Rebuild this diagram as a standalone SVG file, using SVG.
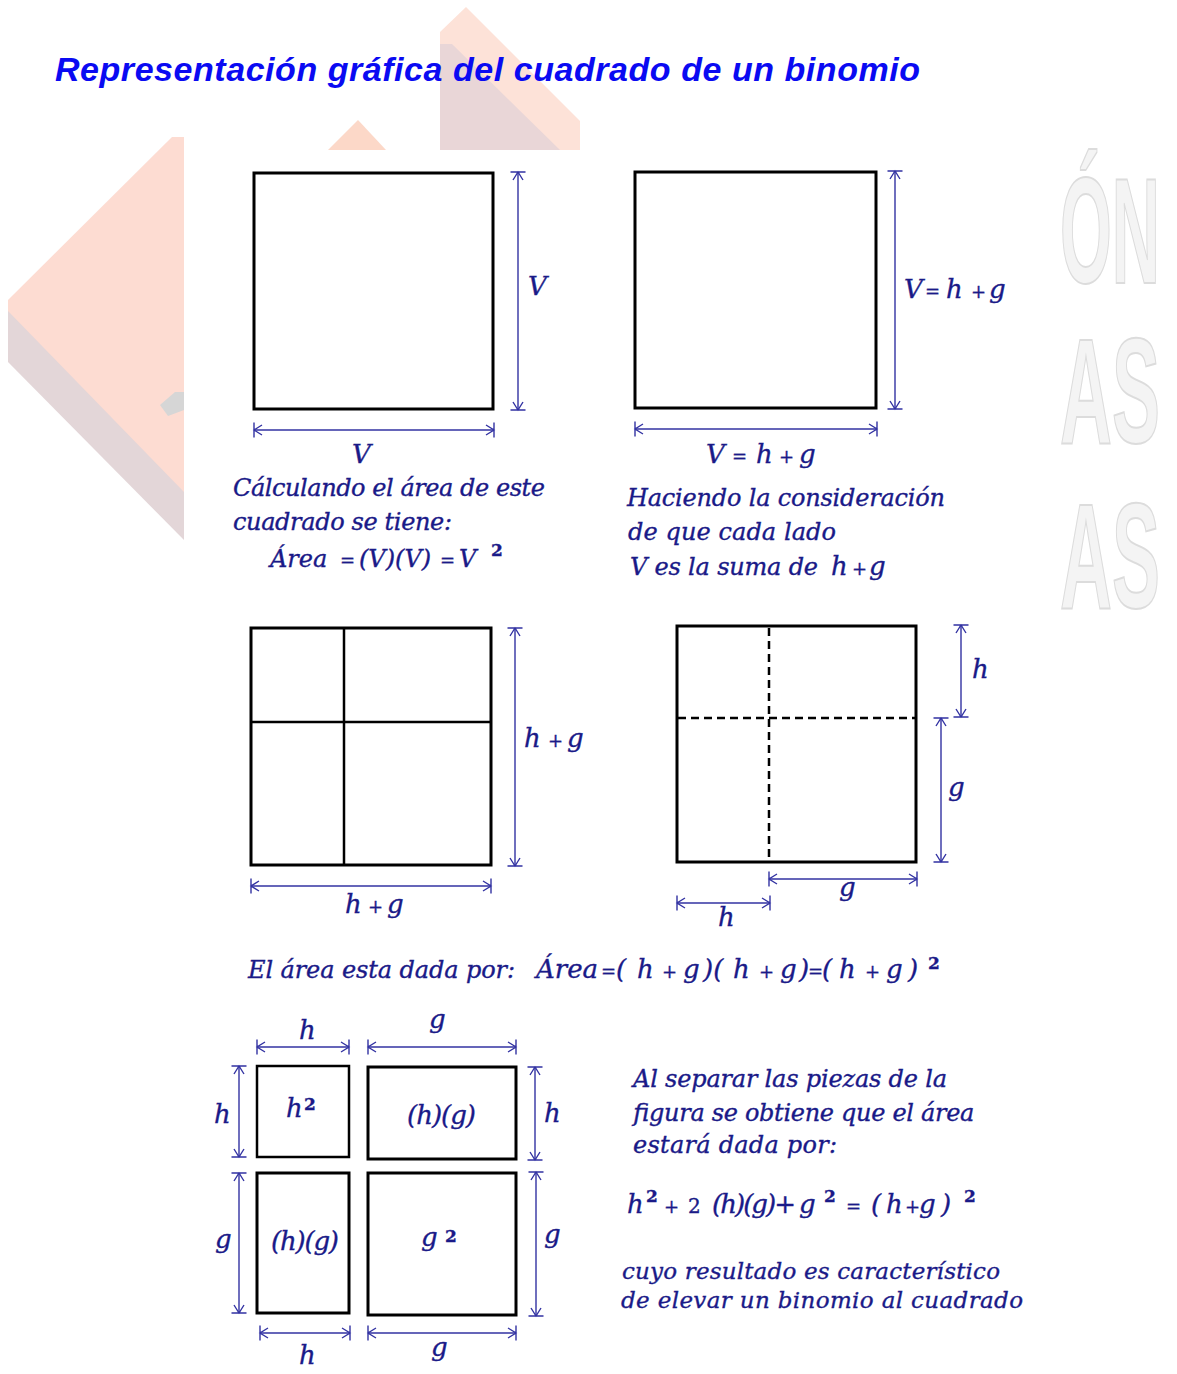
<svg xmlns="http://www.w3.org/2000/svg" width="1177" height="1374" viewBox="0 0 1177 1374">
<defs>
<style>
.t{font-family:"DejaVu Serif","Liberation Serif",serif;font-style:italic;fill:#1a1a88;stroke:#1a1a88;stroke-width:0.35;font-size:24px}
.l{font-size:26px}
.s{font-size:23px}
.op{font-size:18px;font-style:normal}
.sup{font-size:17px;font-style:normal;font-weight:bold}
.sq{fill:#fff;stroke:#000;stroke-width:3}
.thin{fill:#fff;stroke:#000;stroke-width:2.5}
.div{stroke:#000;stroke-width:2.5}
.dash{stroke:#000;stroke-width:2.5;stroke-dasharray:8 5}
.dim{stroke:#3232a2;stroke-width:1.4;fill:none;marker-start:url(#tick);marker-end:url(#tick)}
.wm{font-family:"Liberation Sans",Arial,sans-serif;font-weight:bold;font-size:150px;fill:#f4f4f4;stroke:#dcdcdc;stroke-width:2}
.title{font-family:"Liberation Sans",Arial,sans-serif;font-weight:bold;font-style:italic;font-size:34px;fill:#0a0af2}
</style>
<marker id="tick" markerUnits="userSpaceOnUse" markerWidth="20" markerHeight="20" viewBox="-10 -10 20 20" refX="0" refY="0" orient="auto-start-reverse" overflow="visible">
<path d="M0,-7.5 L0,7.5 M-8,-5 L0,0 L-8,5" fill="none" stroke="#3232a2" stroke-width="1.4"/>
</marker>
</defs>
<rect width="1177" height="1374" fill="#fff"/>

<g id="watermark">
<polygon points="466,7 440,32 440,150 580,150 580,121" fill="#fde2d8"/>
<polygon points="440,44 440,150 560,150 452,44" fill="#e9d6d7"/>
<polygon points="358,120 328,150 386,150" fill="#fcd8c8"/>
<polygon points="184,137 172,137 8,300 8,330 184,505" fill="#fddcd2"/>
<polygon points="8,311 8,362 184,540 184,492" fill="#e3d6d8"/>
<polygon points="160,405 175,392 184,392 184,410 168,416" fill="#d6d6d6"/>
<text class="wm" x="1060" y="283" textLength="100" lengthAdjust="spacingAndGlyphs">ÓN</text>
<text class="wm" x="1060" y="443" textLength="100" lengthAdjust="spacingAndGlyphs">AS</text>
<text class="wm" x="1060" y="608" textLength="100" lengthAdjust="spacingAndGlyphs">AS</text>
</g>

<text id="title" class="title" x="55" y="81" textLength="865">Representación gráfica del cuadrado de un binomio</text>

<g id="connectors">
<line class="dim" x1="518" y1="172" x2="518" y2="410"/>
<line class="dim" x1="254" y1="430" x2="494" y2="430"/>
<line class="dim" x1="895" y1="171" x2="895" y2="409"/>
<line class="dim" x1="635" y1="429" x2="877" y2="429"/>
<line class="dim" x1="515" y1="628" x2="515" y2="866"/>
<line class="dim" x1="251" y1="886" x2="491" y2="886"/>
<line class="dim" x1="961" y1="625" x2="961" y2="717"/>
<line class="dim" x1="941" y1="718" x2="941" y2="862"/>
<line class="dim" x1="769" y1="879" x2="917" y2="879"/>
<line class="dim" x1="677" y1="903" x2="770" y2="903"/>
<line class="dim" x1="257" y1="1047" x2="349" y2="1047"/>
<line class="dim" x1="368" y1="1047" x2="516" y2="1047"/>
<line class="dim" x1="239" y1="1066" x2="239" y2="1157"/>
<line class="dim" x1="239" y1="1173" x2="239" y2="1313"/>
<line class="dim" x1="535" y1="1067" x2="535" y2="1160"/>
<line class="dim" x1="536" y1="1172" x2="536" y2="1316"/>
<line class="dim" x1="260" y1="1333" x2="350" y2="1333"/>
<line class="dim" x1="368" y1="1333" x2="516" y2="1333"/>
</g>

<g id="square-V">
<rect class="sq" x="254" y="173" width="239" height="236"/>
<text class="t l" x="528" y="295">V</text>
<text class="t l" x="352" y="463">V</text>
<text class="t" x="233" y="496" textLength="312">Cálculando el área  de este</text>
<text class="t" x="233" y="530" textLength="219">cuadrado se tiene:</text>
<text class="t"><tspan x="270" y="567">Área</tspan><tspan class="op" x="340">=</tspan><tspan x="359">(V)(V)</tspan><tspan class="op" x="440">=</tspan><tspan x="459">V</tspan><tspan class="sup" x="491" y="556">2</tspan></text>
</g>

<g id="square-hg">
<rect class="sq" x="635" y="172" width="241" height="236"/>
<text class="t l"><tspan x="904" y="298">V</tspan><tspan class="op" x="925">=</tspan><tspan x="946">h</tspan><tspan class="op" x="971">+</tspan><tspan x="989">g</tspan></text>
<text class="t l"><tspan x="706" y="463">V</tspan><tspan class="op" x="732">=</tspan><tspan x="756">h</tspan><tspan class="op" x="779">+</tspan><tspan x="799">g</tspan></text>
<text class="t" x="627" y="506" textLength="318">Haciendo la consideración</text>
<text class="t" x="628" y="540" textLength="208">de  que cada lado</text>
<text class="t" x="630" y="575" textLength="188">V es la  suma de</text>
<text class="t l"><tspan x="831" y="575">h</tspan><tspan class="op" x="852">+</tspan><tspan x="869">g</tspan></text>
</g>

<g id="square-divided">
<rect class="sq" x="251" y="628" width="240" height="237"/>
<line class="div" x1="344" y1="628" x2="344" y2="865"/>
<line class="div" x1="251" y1="722" x2="491" y2="722"/>
<text class="t l"><tspan x="524" y="747">h</tspan><tspan class="op" x="548">+</tspan><tspan x="567">g</tspan></text>
<text class="t l"><tspan x="345" y="913">h</tspan><tspan class="op" x="368">+</tspan><tspan x="387">g</tspan></text>
</g>

<g id="square-dashed">
<rect class="sq" x="677" y="626" width="239" height="236"/>
<line class="dash" x1="769" y1="628" x2="769" y2="861"/>
<line class="dash" x1="678" y1="718" x2="915" y2="718"/>
<text class="t l" x="972" y="678">h</text>
<text class="t l" x="948" y="796">g</text>
<text class="t l" x="839" y="896">g</text>
<text class="t l" x="718" y="926">h</text>
</g>

<g id="area-equation">
<text class="t" x="248" y="978" textLength="267">El área esta dada por:</text>
<text class="t l"><tspan x="536" y="978">Área</tspan><tspan class="op" x="601">=</tspan><tspan x="616">(</tspan><tspan x="637">h</tspan><tspan class="op" x="662">+</tspan><tspan x="683">g</tspan><tspan x="703">)(</tspan><tspan x="733">h</tspan><tspan class="op" x="759">+</tspan><tspan x="780">g</tspan><tspan x="799">)</tspan><tspan class="op" x="808" font-size="14">=</tspan><tspan x="822">(</tspan><tspan x="839">h</tspan><tspan class="op" x="865">+</tspan><tspan x="886">g</tspan><tspan x="908">)</tspan><tspan class="sup" x="928" y="969">2</tspan></text>
</g>

<g id="piece-h2">
<rect class="thin" x="257" y="1066" width="92" height="91"/>
<text class="t l"><tspan x="286" y="1117">h</tspan><tspan class="sup" x="304" y="1110">2</tspan></text>
</g>
<g id="piece-hg-top">
<rect class="sq" x="368" y="1067" width="148" height="92"/>
<text class="t l" x="407" y="1124" textLength="69">(h)(g)</text>
</g>
<g id="piece-hg-left">
<rect class="sq" x="257" y="1173" width="92" height="140"/>
<text class="t l" x="271" y="1250" textLength="68">(h)(g)</text>
</g>
<g id="piece-g2">
<rect class="sq" x="368" y="1173" width="148" height="142"/>
<text class="t l"><tspan x="421" y="1246">g</tspan><tspan class="sup" x="445" y="1242">2</tspan></text>
</g>
<g id="piece-labels">
<text class="t l" x="299" y="1039">h</text>
<text class="t l" x="429" y="1028">g</text>
<text class="t l" x="214" y="1123">h</text>
<text class="t l" x="215" y="1248">g</text>
<text class="t l" x="544" y="1122">h</text>
<text class="t l" x="544" y="1243">g</text>
<text class="t l" x="299" y="1364">h</text>
<text class="t l" x="431" y="1356">g</text>
</g>

<g id="conclusion">
<text class="t" x="633" y="1087" textLength="314">Al separar las piezas de la</text>
<text class="t" x="633" y="1121" textLength="341">figura se obtiene que el área</text>
<text class="t" x="633" y="1153" textLength="204">estará dada por:</text>
<text class="t l"><tspan x="627" y="1213">h</tspan><tspan class="sup" x="646" y="1202">2</tspan><tspan class="op" x="664" y="1213">+</tspan><tspan x="688" font-size="20" font-style="normal">2</tspan><tspan x="712" textLength="84">(h)(g)+</tspan><tspan x="799">g</tspan><tspan class="sup" x="824" y="1202">2</tspan><tspan class="op" x="846" y="1213">=</tspan><tspan x="871">(</tspan><tspan x="886">h</tspan><tspan class="op" x="905">+</tspan><tspan x="919">g</tspan><tspan x="941">)</tspan><tspan class="sup" x="964" y="1202">2</tspan></text>
<text class="t s" x="622" y="1279" textLength="378">cuyo resultado es característico</text>
<text class="t s" x="621" y="1308" textLength="402">de elevar un binomio al cuadrado</text>
</g>
</svg>
